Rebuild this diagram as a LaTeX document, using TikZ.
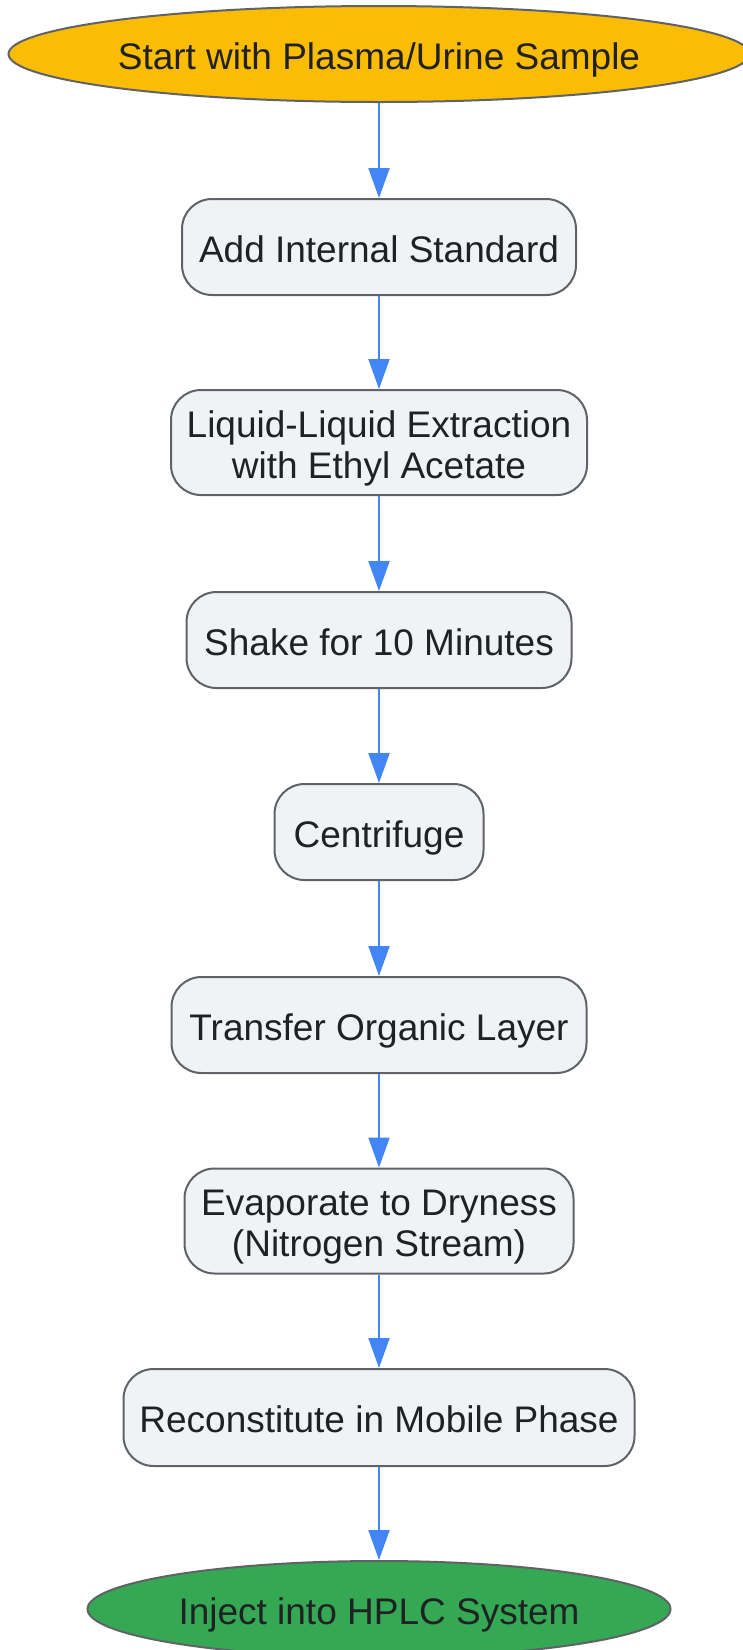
\documentclass[tikz,border=0pt]{standalone}
\usepackage{fontspec}
\setmainfont{Liberation Sans}
\usetikzlibrary{shapes.geometric,arrows.meta}
\definecolor{boxfill}{HTML}{F1F2F4}
\definecolor{boxline}{HTML}{5F6368}
\definecolor{startfill}{HTML}{FBBC04}
\definecolor{endfill}{HTML}{34A853}
\definecolor{arrowblue}{HTML}{4285F4}
\definecolor{txt}{HTML}{202124}
\newcommand\strutS{\rule[-9pt]{0pt}{48pt}}
\newcommand\nodefontS{\fontsize{37}{41}\selectfont\lineskiplimit=-100pt\relax\lineskip=0pt\relax}
\tikzset{
  stepbox/.style={draw=boxline, fill=boxfill, line width=2pt, rounded corners=30pt,
    align=center, text=txt, font=\nodefontS, inner sep=0pt},
  termnode/.style={ellipse, draw=boxline, line width=2pt, align=center, text=txt,
    font=\nodefontS, inner sep=0pt},
  flow/.style={draw=arrowblue, line width=2pt, -{Triangle[length=30pt,width=21pt]}}
}
\begin{document}
\begin{tikzpicture}[x=1pt,y=-1pt]
\useasboundingbox (0,0) rectangle (742,1650);
\node[termnode, fill=startfill, minimum width=741pt, minimum height=96pt] (start) at (379,54) {\strutS Start with Plasma/Urine Sample};
\node[stepbox, minimum width=394pt, minimum height=96pt] (n1) at (379,247) {\strutS Add Internal Standard};
\node[stepbox, minimum width=416pt, minimum height=105pt] (n2) at (379,442.5) {\strutS Liquid-Liquid Extraction\\\strutS with Ethyl Acetate};
\node[stepbox, minimum width=385pt, minimum height=96pt] (n3) at (379,640) {\strutS Shake for 10 Minutes};
\node[stepbox, minimum width=209pt, minimum height=96pt] (n4) at (379,832) {\strutS Centrifuge};
\node[stepbox, minimum width=415pt, minimum height=96pt] (n5) at (379,1025) {\strutS Transfer Organic Layer};
\node[stepbox, minimum width=389pt, minimum height=105pt] (n6) at (379,1221) {\strutS Evaporate to Dryness\\\strutS (Nitrogen Stream)};
\node[stepbox, minimum width=511pt, minimum height=97pt] (n7) at (379,1417.5) {\strutS Reconstitute in Mobile Phase};
\node[termnode, fill=endfill, minimum width=583pt, minimum height=96pt] (end) at (379,1609) {\strutS Inject into HPLC System};
\draw[flow] (start.south) -- (n1.north);
\draw[flow] (n1.south) -- (n2.north);
\draw[flow] (n2.south) -- (n3.north);
\draw[flow] (n3.south) -- (n4.north);
\draw[flow] (n4.south) -- (n5.north);
\draw[flow] (n5.south) -- (n6.north);
\draw[flow] (n6.south) -- (n7.north);
\draw[flow] (n7.south) -- (end.north);
\end{tikzpicture}
\end{document}
